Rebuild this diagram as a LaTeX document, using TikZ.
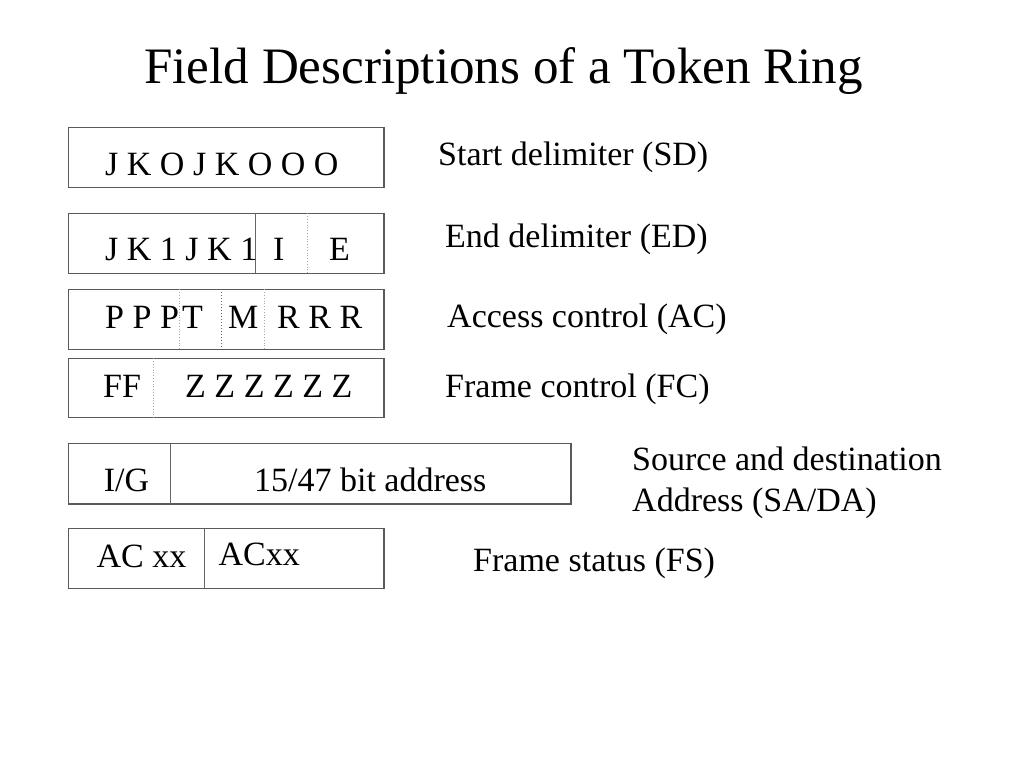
\documentclass[tikz,border=0pt]{standalone}
\usepackage{fontspec}
\setmainfont{Liberation Serif}
\begin{document}
\begin{tikzpicture}[x=1pt,y=-1pt,
  txt/.style={anchor=base west,inner sep=0pt,font=\fontsize{34}{40}\selectfont},
  field/.style={draw=black!65,line width=1.4pt},
  solidsep/.style={draw=black!60,line width=1.2pt},
  dotsep/.style={draw=black!35,line width=0.8pt,dotted},
  darkdotsep/.style={draw=black!60,line width=1pt,dotted}]
\useasboundingbox (0,0) rectangle (1024,768);
\fill[white] (0,0) rectangle (1024,768);
% title
\node[anchor=base west,inner sep=0pt,font=\fontsize{51.1}{56}\selectfont] (title) at (144,83) {Field Descriptions of a Token Ring};
% SD
\draw[field] (68.3,127.5) rectangle (384,187.5);
\node[txt] (sd) at (105,175) {J K O J K O O O};
\node[txt] (sdl) at (438,165) {Start delimiter (SD)};
% ED
\draw[field] (68.3,213.3) rectangle (384,273.3);
\draw[solidsep] (255.7,213.3) -- (255.7,273.3);
\draw[dotsep] (307.3,213.3) -- (307.3,273.3);
\node[txt] (ed1) at (105,260) {J K 1 J K 1};
\node[txt] (ed2) at (273,260) {I};
\node[txt] (ed3) at (329,260) {E};
\node[txt] (edl) at (445,247) {End delimiter (ED)};
% AC
\draw[field] (68.3,289.3) rectangle (384,349.3);
\draw[dotsep] (179.3,289.3) -- (179.3,349.3);
\draw[darkdotsep] (221.7,289.3) -- (221.7,349.3);
\draw[dotsep] (264.3,289.3) -- (264.3,349.3);
\node[txt] (ac1) at (105,328) {P P P};
\node[txt] (ac2) at (182,328) {T};
\node[txt] (ac3) at (228,328) {M};
\node[txt] (ac4) at (277,328) {R R R};
\node[txt] (acl) at (447,327) {Access control (AC)};
% FC
\draw[field] (68.3,358.3) rectangle (384,417.7);
\draw[dotsep] (153.3,358.3) -- (153.3,417.7);
\node[txt] (fc1) at (103,397) {FF};
\node[txt] (fc2) at (185,397) {Z Z Z Z Z Z};
\node[txt] (fcl) at (445,397) {Frame control (FC)};
% SA/DA
\draw[field] (68.3,443.5) rectangle (571,504);
\draw[solidsep] (170.2,443.5) -- (170.2,504);
\node[txt] (sa1) at (103.7,491.7) {I/G};
\node[txt] (sa2) at (253.9,491.7) {15/47 bit address};
\node[txt] (sal1) at (632,470) {Source and destination};
\node[txt] (sal2) at (632,511) {Address (SA/DA)};
% FS
\draw[field] (68.3,528.5) rectangle (384,588.5);
\draw[solidsep] (204.3,528.5) -- (204.3,588.5);
\node[txt] (fs1) at (96.5,567) {AC xx};
\node[txt] (fs2) at (218.4,565) {ACxx};
\node[txt] (fsl) at (473,571) {Frame status (FS)};
\end{tikzpicture}
\end{document}
